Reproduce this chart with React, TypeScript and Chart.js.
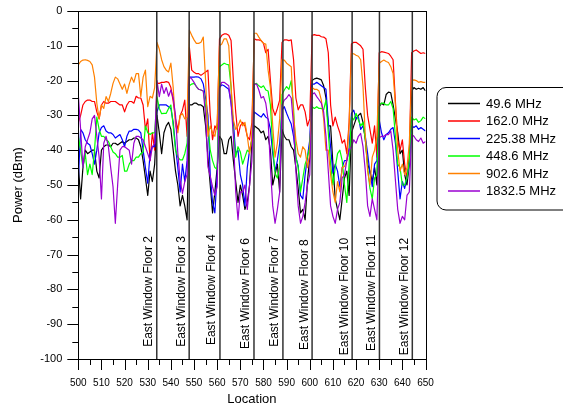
import { useEffect, useRef } from 'react';
import { Chart, registerables } from 'chart.js';

Chart.register(...registerables);

// ---------- data ----------
const LOCATION_START = 500; // first location; one reading per location unit

const mhz49_6 = [
  -44, -54, -45, -40, -41, -40.5, -40, -40, -46, -48,
  -40, -39, -38.5, -38.5, -39, -38, -38, -38.5, -38, -37.5,
  -38, -37.5, -37, -37, -36.5, -36.5, -37, -39, -43, -48,
  -53, -46, -49, -44, -30, -35, -41, -35, -33, -32,
  -34, -40, -46, -50, -56, -53, -56, -60, -27, -27,
  -26.5, -26.5, -27, -27, -27.5, -33, -42, -50, -58, -52,
  -45, -36, -37, -41, -41, -37, -36, -43, -49, -55,
  -50, -53, -57, -55, -50, -38, -33, -33.5, -34, -35,
  -34.5, -37, -36, -40, -50, -47, -44, -52, -34, -36,
  -37, -37, -39, -40, -45, -51, -58, -57, -60, -49,
  -42, -20, -19.5, -19.3, -19.5, -19.8, -21.5, -25, -33, -33,
  -44, -54, -57, -60, -54, -48, -46, -53, -35, -33,
  -31, -30, -29.4, -32, -37, -44, -46, -49, -45, -50,
  -27.5, -26.5, -27, -24, -23.3, -23.5, -27, -31, -35, -41,
  -40, -47, -50, -44, -23, -22, -22.5, -22.2, -22.5, -22,
  -23,
];

const mhz162_0 = [
  -32, -30, -27, -26, -25.6, -25.6, -26, -26, -29, -31,
  -27, -26, -26.5, -26.5, -26, -26, -26, -26.5, -27, -27,
  -29, -27, -26, -26, -26.5, -24.5, -25, -25, -27, -34,
  -31, -43, -35, -40, -20.7, -20.8, -20.5, -20.5, -20.3, -20.5,
  -22, -26, -31, -34, -30, -28.5, -25.6, -36, -10.5, -17,
  -17.6, -18, -18, -18.5, -18, -17.5, -17, -30, -37, -33,
  -34, -8, -7, -6.6, -6.6, -7, -8.5, -20, -29, -36,
  -33, -32, -33, -36, -37, -32, -8, -8.3, -8.3, -8.5,
  -9.3, -12, -11, -20, -28, -30, -28, -25.6, -9, -8.3,
  -8.3, -8.5, -8.3, -14, -25, -28.4, -27, -27, -29, -33,
  -31, -7, -6.8, -7, -7, -7.4, -7.5, -8, -12, -27,
  -33, -30.5, -33, -35, -38, -37, -41, -32, -9.5, -9,
  -9, -9.5, -10, -11, -22, -30, -34, -38, -33, -42,
  -12, -11.7, -11.8, -12, -12.2, -13, -14, -26, -37, -40,
  -37, -44, -48, -42, -12, -11.5, -11.2, -11.7, -12.2, -12,
  -12.2,
];

const mhz225_38 = [
  -49, -34, -35, -37, -38, -38.5, -41, -44, -40, -35,
  -33.5, -33, -34.5, -35, -35, -35.5, -36.5, -36, -35.5, -37,
  -39, -36, -34.5, -34.5, -34, -34, -34.2, -35, -40, -45,
  -49.5, -41, -39, -39, -29, -27, -27, -27, -27, -27.5,
  -28, -32, -39, -45, -52, -44, -49, -43, -19, -19,
  -19, -18.9, -19, -19.5, -21, -25, -30, -47, -55, -58,
  -47, -22, -21.2, -21.5, -22, -22.5, -26.5, -32, -41, -40,
  -47, -50, -56, -45, -40, -37, -29, -29.5, -30, -30.5,
  -29.5, -30.5, -31, -34, -41, -46, -43, -38, -28.5, -27.5,
  -29.4, -31, -32.5, -36, -42, -44.5, -53, -54, -47, -42,
  -37, -21, -21, -20.5, -21, -21.5, -22, -22.5, -32, -39,
  -46.6, -44, -46, -50.5, -45, -43, -43, -39.5, -29.4, -28.5,
  -31, -30.4, -34, -33, -36, -41, -46.6, -50.5, -44, -43,
  -31.3, -35, -37, -35.5, -35, -34, -33.5, -38, -46, -54,
  -49, -51, -48, -44, -33, -33.5, -33, -34, -33.5, -34,
  -34.5,
];

const mhz448_6 = [
  -36, -40, -45, -41, -47, -44, -47, -40, -30.5, -34,
  -36, -36, -37, -37.5, -39, -40.5, -41, -42, -42, -41.5,
  -46, -46, -44, -43, -43, -42, -42, -41, -40.5, -33,
  -35, -35.5, -35, -35, -24.7, -28, -29.5, -29.4, -29.4, -28,
  -27, -33, -40, -42, -42.8, -42.8, -41, -38, -21.5, -21,
  -20.8, -21.7, -22.5, -22.7, -23, -27.5, -33, -40, -43, -45,
  -45.5, -16, -15.5, -15, -15.3, -15.5, -21.7, -35, -42, -39,
  -40.5, -44, -42, -40, -40.5, -37, -21, -20.8, -21.5, -22,
  -21.5, -22.7, -23, -27, -39, -46.6, -48, -45, -24, -22.7,
  -21.7, -22.5, -20, -28, -42, -45, -52, -48, -44, -42,
  -39, -27.5, -28, -27.5, -28, -28, -28.4, -25.6, -35, -44,
  -50, -45, -41, -40, -43, -50, -55, -44, -30.4, -31.3,
  -29.4, -31.3, -33, -32, -37, -45, -51, -54, -48, -47,
  -27, -26.5, -26.5, -27, -27, -26, -28, -36, -44, -45,
  -50, -50, -48, -43, -30.5, -31.3, -31, -32, -31.5, -30.5,
  -31,
];

const mhz902_6 = [
  -15.5, -14.5, -14.1, -14, -14.2, -14.5, -15.5, -19, -26.5, -31,
  -27, -28, -24.6, -26, -23.7, -20.8, -19, -19.5, -21, -22.5,
  -21, -23.7, -21, -19, -20.5, -18, -18, -24.6, -19, -17,
  -27.5, -24.5, -25, -22, -9, -11, -14, -16, -17, -17.5,
  -15, -22, -33, -35, -30, -29.5, -31, -30.5, -5.5, -7,
  -8.3, -9.3, -9.3, -9, -7.5, -20, -36, -33, -35, -36,
  -32, -10, -9.5, -8, -8, -10, -21.7, -31.3, -34, -33,
  -31.3, -33, -32, -36, -41, -36, -6.4, -6.4, -7.5, -8.5,
  -9.3, -9.5, -17, -22, -33, -42, -38, -31, -14, -14.1,
  -15, -15.5, -16, -30, -37, -41, -42, -39, -40, -45,
  -41, -22, -22.5, -22.5, -23, -25.6, -31, -40, -40, -47,
  -52, -55, -49, -52, -45, -44.7, -43, -33, -12.2, -12.3,
  -12.7, -13, -14, -21.7, -36, -46, -50, -42, -40, -36,
  -15, -14.5, -14.1, -14.5, -14.8, -16, -18, -27, -40, -46,
  -44, -47, -45, -38, -20, -19.8, -20, -20.5, -20.3, -20.5,
  -20.5,
];

const mhz1832_5 = [
  -24, -34, -45, -39, -37, -35, -31, -30, -36, -42,
  -54, -38, -36, -39, -45, -50.5, -61, -50, -40, -39,
  -39, -39.5, -40, -44, -38, -36, -36, -36.5, -37, -39,
  -41, -43, -39, -38, -20, -24.6, -21, -23.7, -22, -24.5,
  -22.7, -25, -30, -40.9, -48.6, -52.4, -49, -47, -18.9, -19.5,
  -20.5, -21.7, -22.5, -22.7, -23, -30, -44.7, -47.5, -50.5, -53,
  -50.5, -22, -20.5, -20.5, -21, -21.5, -26.5, -36, -52, -60,
  -52, -52, -50, -57, -50, -43, -21, -21, -22.7, -25,
  -24.6, -26.5, -31.3, -45, -56, -61, -57, -52, -27, -25.6,
  -25, -24, -25, -33, -46, -56, -61, -59, -55, -50,
  -47, -24, -23.5, -24.6, -25.5, -26.5, -29, -36, -46, -56,
  -59, -61, -57, -55, -48, -47, -43, -40, -39, -37,
  -38, -36, -35.2, -39, -46, -56, -59, -54, -57, -60,
  -36.4, -36, -36, -35.5, -35.5, -34.5, -40, -48.6, -57, -61,
  -59, -60, -53, -52, -35.5, -36, -37, -37.5, -36.5, -38,
  -37.5,
];

const seriesNames = ['49.6 MHz', '162.0 MHz', '225.38 MHz', '448.6 MHz', '902.6 MHz', '1832.5 MHz'];
const seriesValues = [mhz49_6, mhz162_0, mhz225_38, mhz448_6, mhz902_6, mhz1832_5];
const seriesColors = ['#000000', '#ff0000', '#0000ff', '#00ff00', '#ff8000', '#9a00d0'];

// window markers (location) and their labels
const windowLocations = [533.9, 547.9, 561.2, 575.9, 588.4, 601, 618.3, 630.1, 644.3];
const windowLabels = [
  'East Window Floor 2', 'East Window Floor 3', 'East Window Floor 4',
  'East Window Floor 6', 'East Window Floor 7', 'East Window Floor 8',
  'East Window Floor 10', 'East Window Floor 11', 'East Window Floor 12',
];
const windowLabelStart = [-96.5, -96.5, -96, -97.1, -96.5, -97.4, -98.9, -97.7, -98.9];

const xRange = [500, 650];
const yRange = [-100, 0];

const FONT = '"Liberation Sans", Arial, Helvetica, sans-serif';

const decorPlugin = {
  id: 'decor',
  afterDatasetsDraw(chart: any) {
    const { ctx, chartArea: a, scales } = chart;
    const x = scales.x;
    const y = scales.y;
    ctx.save();
    // window lines + labels
    windowLocations.forEach((loc, i) => {
      const px = x.getPixelForValue(loc);
      ctx.strokeStyle = '#333333';
      ctx.lineWidth = 1.5;
      ctx.beginPath();
      ctx.moveTo(px, a.top);
      ctx.lineTo(px, a.bottom);
      ctx.stroke();
      ctx.save();
      ctx.translate(px - 4.5, y.getPixelForValue(windowLabelStart[i]));
      ctx.rotate(-Math.PI / 2);
      ctx.font = `12px ${FONT}`;
      ctx.fillStyle = '#000';
      ctx.textAlign = 'left';
      ctx.textBaseline = 'alphabetic';
      ctx.fillText(windowLabels[i], 0, 0);
      ctx.restore();
    });
    // frame
    ctx.strokeStyle = '#000';
    ctx.lineWidth = 1;
    ctx.strokeRect(Math.round(a.left) + 0.5, Math.round(a.top) + 0.5,
      Math.round(a.right) - Math.round(a.left), Math.round(a.bottom) - Math.round(a.top));
    // ticks (major every 10, minor every 5)
    ctx.beginPath();
    for (let v = x.min; v <= x.max + 1e-6; v += 5) {
      const px = Math.round(x.getPixelForValue(v)) + 0.5;
      const len = Math.abs(v % 10) < 1e-6 ? 11 : 6;
      ctx.moveTo(px, a.bottom);
      ctx.lineTo(px, a.bottom + len);
    }
    for (let v = y.min; v <= y.max + 1e-6; v += 5) {
      const py = Math.round(y.getPixelForValue(v)) + 0.5;
      const len = Math.abs(v % 10) < 1e-6 ? 11 : 6;
      ctx.moveTo(a.left, py);
      ctx.lineTo(a.left - len, py);
    }
    ctx.stroke();
    ctx.restore();
  },
  afterDraw(chart: any) {
    const { ctx, chartArea: a } = chart;
    const lx = a.right + 11.5;
    const ly = 87.5;
    ctx.save();
    ctx.beginPath();
    ctx.roundRect(lx, ly, 150, 122.5, 9);
    ctx.fillStyle = '#fff';
    ctx.fill();
    ctx.strokeStyle = '#000';
    ctx.lineWidth = 1;
    ctx.stroke();
    ctx.font = `13px ${FONT}`;
    ctx.textAlign = 'left';
    ctx.textBaseline = 'middle';
    chart.data.datasets.forEach((ds: any, i: number) => {
      const ry = ly + 16 + i * 17.5;
      ctx.strokeStyle = ds.borderColor;
      ctx.lineWidth = 1.5;
      ctx.beginPath();
      ctx.moveTo(lx + 11, ry);
      ctx.lineTo(lx + 43, ry);
      ctx.stroke();
      ctx.fillStyle = '#000';
      ctx.fillText(ds.label, lx + 49, ry + 0.5);
    });
    ctx.restore();
  },
};

export default function App() {
  const ref = useRef<HTMLCanvasElement>(null);
  useEffect(() => {
    if (!ref.current) return;
    const datasets = seriesValues.map((vals, i) => ({
      label: seriesNames[i],
      data: vals.map((v, k) => ({ x: LOCATION_START + k, y: v })),
      borderColor: seriesColors[i],
      backgroundColor: seriesColors[i],
      borderWidth: 1.2,
      pointRadius: 0,
      tension: 0,
      borderJoinStyle: 'round' as const,
      fill: false,
      order: seriesValues.length - i,
    }));
    const chart = new Chart(ref.current, {
      type: 'line',
      data: { datasets },
      options: {
        animation: false,
        responsive: false,
        devicePixelRatio: 1,
        layout: { padding: { top: 11, right: 137.5, left: 0, bottom: 0 } },
        plugins: { legend: { display: false }, tooltip: { enabled: false } },
        scales: {
          x: {
            type: 'linear',
            min: xRange[0],
            max: xRange[1],
            grid: { display: false, drawTicks: false },
            border: { display: false },
            ticks: {
              stepSize: 10,
              autoSkip: false,
              maxRotation: 0,
              minRotation: 0,
              padding: 18,
              color: '#000',
              font: { family: FONT, size: 10 },
            },
            title: {
              display: true,
              text: 'Location',
              color: '#000',
              font: { family: FONT, size: 13, lineHeight: 1 },
              padding: { top: 0, bottom: 0 },
            },
            afterFit: (s: any) => { s.height = 47; s.paddingLeft = 0; s.paddingRight = 0; },
          },
          y: {
            type: 'linear',
            min: yRange[0],
            max: yRange[1],
            grid: { display: false, drawTicks: false },
            border: { display: false },
            ticks: {
              stepSize: 10,
              padding: 16,
              color: '#000',
              font: { family: FONT, size: 11 },
            },
            title: {
              display: true,
              text: 'Power (dBm)',
              color: '#000',
              font: { family: FONT, size: 13, lineHeight: 1 },
              padding: { top: 11.5, bottom: 0 },
            },
            afterFit: (s: any) => { s.width = 78.3; s.paddingTop = 0; s.paddingBottom = 0; },
          },
        },
      },
      plugins: [decorPlugin],
    });
    return () => chart.destroy();
  }, []);
  return (
    <div style={{ position: 'absolute', left: 0, top: 0, width: 563, height: 406 }}>
      <canvas ref={ref} width={563} height={406} style={{ display: 'block' }} />
    </div>
  );
}
